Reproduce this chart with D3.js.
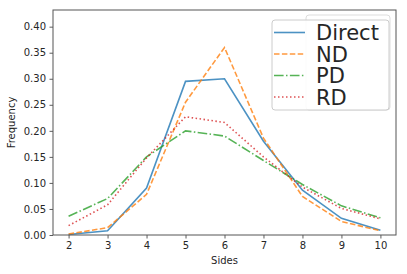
<!DOCTYPE html>
<html>
<head>
<meta charset="utf-8">
<script src="https://cdn.jsdelivr.net/npm/d3@7"></script>
<style>
  body { margin: 0; background: #fff; }
  text { font-family: "DejaVu Sans", sans-serif; fill: #262626; }
</style>
</head>
<body>
<script>
const width = 407;
const height = 274;
const margin = { top: 10, right: 11, bottom: 39, left: 53 };

const sides = [2, 3, 4, 5, 6, 7, 8, 9, 10];
const direct = [0.001, 0.008, 0.090, 0.295, 0.300, 0.180, 0.086, 0.032, 0.009];
const nd     = [0.002, 0.014, 0.078, 0.255, 0.360, 0.186, 0.074, 0.026, 0.008];
const pd     = [0.036, 0.070, 0.150, 0.200, 0.190, 0.143, 0.097, 0.056, 0.033];
const rd     = [0.018, 0.058, 0.148, 0.227, 0.216, 0.150, 0.092, 0.051, 0.031];
const yTicks = [0, 0.05, 0.10, 0.15, 0.20, 0.25, 0.30, 0.35, 0.40];

const series = [
    { name: "Direct", values: direct, color: "#1f77b4", dash: null },
    { name: "ND", values: nd, color: "#ff7f0e", dash: "5.5,2.4" },
    { name: "PD", values: pd, color: "#2ca02c", dash: "9.6,2.4,1.5,2.4" },
    { name: "RD", values: rd, color: "#d62728", dash: "1.5,2.5" }
];

const svg = d3.select("body").append("svg")
    .attr("width", width)
    .attr("height", height);

const w = width - margin.left - margin.right;
const h = height - margin.top - margin.bottom;

const g = svg.append("g")
    .attr("transform", `translate(${margin.left},${margin.top})`);

const x = d3.scaleLinear().domain([1.6, 10.4]).range([0, w]);
const y = d3.scaleLinear().domain([0, 0.432]).range([h, 0]);

// axes
const xAxis = g.append("g")
    .attr("transform", `translate(0,${h})`)
    .call(d3.axisBottom(x).tickValues(sides).tickFormat(d3.format("d")).tickSizeOuter(0).tickSize(3.5).tickPadding(3.5));
const yAxis = g.append("g")
    .call(d3.axisLeft(y).tickValues(yTicks).tickFormat(d3.format(".2f")).tickSizeOuter(0).tickSize(3.5).tickPadding(3.5));

[xAxis, yAxis].forEach(a => {
    a.select(".domain").remove();
    a.selectAll(".tick line").attr("stroke", "#333").attr("stroke-width", 0.8);
    a.selectAll(".tick text").style("font-family", "DejaVu Sans").attr("font-size", 10).attr("fill", "#262626");
});

// lines
const line = d3.line().x((d, i) => x(sides[i])).y(d => y(d));

series.forEach(s => {
    g.append("path")
        .datum(s.values)
        .attr("fill", "none")
        .attr("stroke", s.color)
        .attr("stroke-opacity", 0.8)
        .attr("stroke-width", 1.6)
        .attr("stroke-dasharray", s.dash)
        .attr("d", line);
});

// frame
g.append("rect")
    .attr("width", w).attr("height", h)
    .attr("fill", "none")
    .attr("stroke", "#555")
    .attr("stroke-width", 1);

// axis labels
svg.append("text")
    .attr("x", margin.left + w / 2)
    .attr("y", 264)
    .attr("text-anchor", "middle")
    .attr("font-size", 10)
    .text("Sides");

svg.append("text")
    .attr("transform", `translate(15,${margin.top + h / 2}) rotate(-90)`)
    .attr("text-anchor", "middle")
    .attr("font-size", 10)
    .text("Frequency");

// legend
const leg = svg.append("g");
leg.append("rect")
    .attr("x", 306).attr("y", 15).attr("width", 84).attr("height", 95)
    .attr("rx", 3)
    .attr("fill", "#fff").attr("stroke", "#ddd").attr("stroke-width", 1);
leg.append("rect")
    .attr("x", 272).attr("y", 20).attr("width", 117).attr("height", 90)
    .attr("rx", 3)
    .attr("fill", "#fff").attr("fill-opacity", 0.85)
    .attr("stroke", "#ccc").attr("stroke-width", 1);

series.forEach((s, i) => {
    const cy = 32.5 + i * 21.5;
    leg.append("line")
        .attr("x1", 274).attr("x2", 305)
        .attr("y1", cy).attr("y2", cy)
        .attr("stroke", s.color)
        .attr("stroke-opacity", 0.8)
        .attr("stroke-width", 1.6)
        .attr("stroke-dasharray", s.dash);
    leg.append("text")
        .attr("x", 316)
        .attr("y", cy + 7.7)
        .attr("font-size", 21)
        .attr("fill", "#000")
        .text(s.name);
});
</script>
</body>
</html>
